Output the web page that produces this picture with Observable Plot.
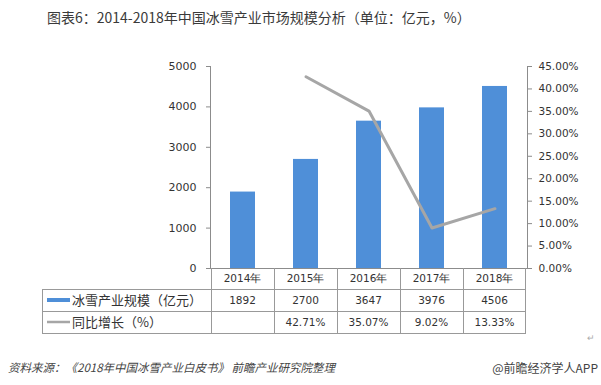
<!DOCTYPE html>
<html><head><meta charset="utf-8">
<script src="https://cdn.jsdelivr.net/npm/d3@7"></script>
<script src="https://cdn.jsdelivr.net/npm/@observablehq/plot@0.6"></script>
<style>
body{margin:0;background:#fff;}
#wrap{position:relative;width:601px;height:385px;overflow:hidden;font-family:"Noto Sans CJK SC",sans-serif;}
#chart{position:absolute;left:0;top:0;}
#title{position:absolute;left:47px;top:7px;font-size:14px;color:#3a3a3a;white-space:nowrap;}
#src{position:absolute;left:8px;top:359px;font-size:11.5px;font-style:italic;color:#444;white-space:nowrap;}
#brand{position:absolute;right:3px;top:359px;font-size:12px;color:#444;white-space:nowrap;}
#ret{position:absolute;left:587px;top:331px;font-size:9px;color:#aaa;}
</style></head><body>
<div id="wrap">
<div id="chart"></div>
<div id="title"></div>
<div id="src"></div>
<div id="brand"></div>
<div id="ret">↵</div>
</div>
<script>
const titleText = "图表6：2014-2018年中国冰雪产业市场规模分析（单位：亿元，%）";
const sourceText = "资料来源：《2018年中国冰雪产业白皮书》 前瞻产业研究院整理";
const brandText = "@前瞻经济学人APP";
const years = ["2014年", "2015年", "2016年", "2017年", "2018年"];
const marketSize = [1892, 2700, 3647, 3976, 4506];
const growth = [null, 42.71, 35.07, 9.02, 13.33];
const growthLabels = ["", "42.71%", "35.07%", "9.02%", "13.33%"];
const seriesNames = ["冰雪产业规模（亿元）", "同比增长（%）"];
const leftTicks = [0, 1000, 2000, 3000, 4000, 5000];
const rightTicks = [0, 5, 10, 15, 20, 25, 30, 35, 40, 45];

const barColor = "#4f8fd8", lineColor = "#a6a6a6", axisColor = "#8c8c8c";
const yMax = 5000, pMax = 45;
const toY = p => p * yMax / pMax;

document.getElementById("title").textContent = titleText;
document.getElementById("src").textContent = sourceText;
document.getElementById("brand").textContent = brandText;

const bars = years.map((year, i) => ({year, value: marketSize[i]}));
const line = years.map((year, i) => ({year, pct: growth[i]})).filter(d => d.pct != null);

const chart = Plot.plot({
  width: 601, height: 385,
  marginTop: 66, marginBottom: 117, marginLeft: 210, marginRight: 74,
  style: {fontFamily: "DejaVu Sans, sans-serif", fontSize: "11px", color: "#333", background: "transparent"},
  x: {type: "band", domain: years, padding: 0, axis: null},
  y: {domain: [0, yMax], axis: null},
  marks: [
    Plot.barY(bars, {x: "year", y: "value", fill: barColor, insetLeft: 19, insetRight: 19}),
    Plot.line(line, {x: "year", y: d => toY(d.pct), stroke: lineColor, strokeWidth: 3}),
    Plot.axisY(leftTicks, {anchor: "left", label: null, tickSize: 4, tickPadding: 10, tickFormat: d => String(d), stroke: axisColor}),
    Plot.axisY(rightTicks.map(toY), {anchor: "right", label: null, tickSize: 4, tickPadding: 7, tickFormat: d => (d * pMax / yMax).toFixed(2) + "%", stroke: axisColor, fontSize: 10.5}),
    Plot.frame({anchor: "left", stroke: axisColor}),
    Plot.frame({anchor: "right", stroke: axisColor}),
    Plot.frame({anchor: "bottom", stroke: axisColor})
  ]
});
document.getElementById("chart").appendChild(chart);

// data table under the chart, aligned to the plot's x scale
const xs = chart.scale("x"), ys = chart.scale("y");
const bw = xs.bandwidth;
const yTop = ys.apply(0);
const rowB = [yTop, yTop + 21, yTop + 43, yTop + 65];
const tableLeft = 42;
const tableRight = xs.apply(years[years.length - 1]) + bw;
const g = d3.select(chart).append("g").attr("stroke", "#999").attr("stroke-width", 1);
[rowB[1], rowB[2], rowB[3]].forEach(y => g.append("line").attr("x1", tableLeft).attr("x2", tableRight).attr("y1", y + 0.5).attr("y2", y + 0.5));
g.append("line").attr("x1", tableLeft + 0.5).attr("x2", tableLeft + 0.5).attr("y1", rowB[1]).attr("y2", rowB[3]);
years.forEach(yr => {
  const x = Math.round(xs.apply(yr)) + 0.5;
  g.append("line").attr("x1", x).attr("x2", x).attr("y1", rowB[0]).attr("y2", rowB[3]);
});
g.append("line").attr("x1", tableRight - 0.5).attr("x2", tableRight - 0.5).attr("y1", rowB[0]).attr("y2", rowB[3]);

const t = d3.select(chart).append("g").attr("font-family", "DejaVu Sans, sans-serif").attr("font-size", 10.5).attr("fill", "#333").attr("text-anchor", "middle");
const rowMid = i => (rowB[i] + rowB[i + 1]) / 2;
years.forEach((yr, i) => {
  const cx = xs.apply(yr) + bw / 2;
  t.append("text").attr("x", cx).attr("y", rowMid(0)).attr("dy", "0.35em").text(yr);
  t.append("text").attr("x", cx).attr("y", rowMid(1)).attr("dy", "0.35em").text(marketSize[i]);
  t.append("text").attr("x", cx).attr("y", rowMid(2)).attr("dy", "0.35em").text(growthLabels[i]);
});
const lg = d3.select(chart).append("g").attr("text-anchor", "start");
lg.append("rect").attr("x", 47).attr("y", rowMid(1) - 2).attr("width", 23).attr("height", 4).attr("fill", barColor);
lg.append("line").attr("x1", 47).attr("x2", 70).attr("y1", rowMid(2)).attr("y2", rowMid(2)).attr("stroke", lineColor).attr("stroke-width", 2.5);
seriesNames.forEach((name, i) => {
  lg.append("text").attr("x", 72).attr("y", rowMid(i + 1)).attr("dy", "0.35em").attr("text-anchor", "start")
    .attr("font-family", "Noto Sans CJK SC, sans-serif").attr("font-size", 13).attr("fill", "#333").text(name);
});
</script>
</body></html>
